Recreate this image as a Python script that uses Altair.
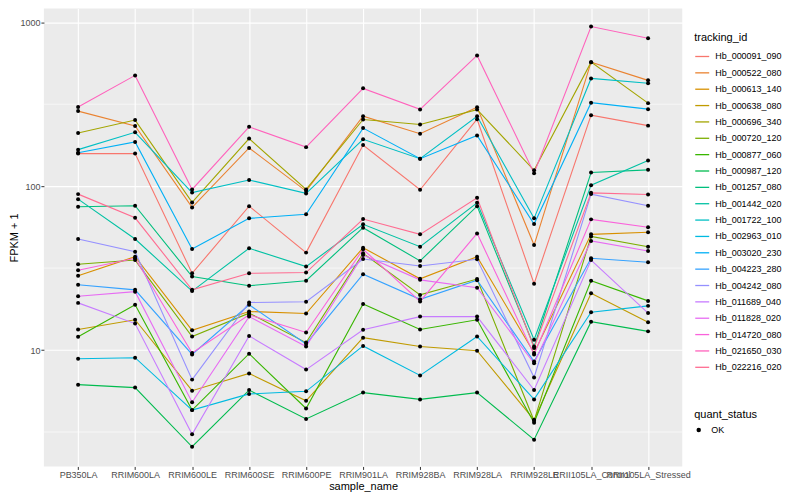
import altair as alt
import pandas as pd

samples = ["PB350LA", "RRIM600LA", "RRIM600LE", "RRIM600SE", "RRIM600PE", "RRIM901LA",
           "RRIM928BA", "RRIM928LA", "RRIM928LE", "RRII105LA_Control", "RRII105LA_Stressed"]

ids = ["Hb_000091_090", "Hb_000522_080", "Hb_000613_140", "Hb_000638_080", "Hb_000696_340",
       "Hb_000720_120", "Hb_000877_060", "Hb_000987_120", "Hb_001257_080", "Hb_001442_020",
       "Hb_001722_100", "Hb_002963_010", "Hb_003020_230", "Hb_004223_280", "Hb_004242_080",
       "Hb_011689_040", "Hb_011828_020", "Hb_014720_080", "Hb_021650_030", "Hb_022216_020"]

hb_000091_090 = [158, 158, 29.4, 75.5, 39.3, 178, 95, 256, 25.4, 271, 234]
hb_000522_080 = [287, 233, 74.2, 171, 93.3, 267, 209, 303, 43.7, 571, 442]
hb_000613_140 = [28.4, 37.1, 13.2, 17.2, 16.7, 42.1, 27.2, 37.1, 9.6, 50.8, 52.3]
hb_000638_080 = [13.35, 15.3, 5.65, 7.2, 4.9, 11.9, 10.5, 9.9, 3.75, 22.2, 14.8]
hb_000696_340 = [211, 253, 79.6, 195, 95.5, 255, 238, 293, 125, 571, 321]
hb_000720_120 = [33.4, 35.4, 12.1, 16.8, 11.1, 38.9, 21.7, 27.1, 3.7, 49.3, 42.7]
hb_000877_060 = [12.05, 18.9, 4.3, 9.5, 4.4, 19.1, 13.35, 15.3, 3.6, 26.5, 19.95]
hb_000987_120 = [6.15, 5.9, 2.57, 5.7, 3.8, 5.5, 5.0, 5.5, 2.84, 14.9, 13.0]
hb_001257_080 = [74.8, 75.9, 28.1, 24.7, 26.5, 55.8, 35.0, 75.5, 10.5, 121.2, 125.7]
hb_001442_020 = [83.3, 47.6, 22.9, 41.8, 32.3, 58.5, 42.7, 79.1, 11.55, 101.4, 143.4]
hb_001722_100 = [167, 213, 91.3, 109, 90.3, 193, 147, 267, 63.6, 454, 424]
hb_002963_010 = [8.85, 8.98, 4.3, 5.4, 5.6, 10.6, 7.0, 12.1, 5.0, 17.0, 18.6]
hb_003020_230 = [160, 186, 41.4, 63.6, 67.3, 226, 147, 204, 58.7, 323, 295]
hb_004223_280 = [25.0, 23.3, 9.4, 18.9, 10.9, 29.0, 20.4, 26.7, 8.5, 36.3, 34.3]
hb_004242_080 = [47.6, 39.8, 6.6, 19.5, 19.7, 35.9, 32.6, 35.8, 6.8, 89.4, 75.9]
hb_011689_040 = [19.4, 14.5, 3.06, 12.2, 7.6, 13.3, 16.0, 16.0, 5.7, 35.4, 16.8]
hb_011828_020 = [21.3, 22.7, 4.8, 16.0, 10.5, 38.0, 26.8, 24.0, 8.3, 46.3, 40.2]
hb_014720_080 = [30.7, 36.3, 9.6, 16.4, 12.8, 41.2, 19.8, 51.5, 9.4, 62.7, 56.1]
hb_021650_030 = [304, 474, 95.5, 230, 173, 395, 294, 627, 120, 941, 799]
hb_022216_020 = [89.4, 64.1, 23.3, 29.4, 29.7, 63.0, 50.8, 84.9, 10.3, 91.0, 89.0]

series = [hb_000091_090, hb_000522_080, hb_000613_140, hb_000638_080, hb_000696_340,
          hb_000720_120, hb_000877_060, hb_000987_120, hb_001257_080, hb_001442_020,
          hb_001722_100, hb_002963_010, hb_003020_230, hb_004223_280, hb_004242_080,
          hb_011689_040, hb_011828_020, hb_014720_080, hb_021650_030, hb_022216_020]

palette = ["#F8766D", "#EA8331", "#D89000", "#C09B00", "#A3A500", "#7CAE00", "#39B600",
           "#00BB4E", "#00BF7D", "#00C1A3", "#00BFC4", "#00BAE0", "#00B0F6", "#35A2FF",
           "#9590FF", "#C77CFF", "#E76BF3", "#FA62DB", "#FF62BC", "#FF6C91"]

major_breaks = [10, 100, 1000]
minor_breaks = [3.1623, 31.623, 316.23]

rows = []
for tid, vals in zip(ids, series):
    for s, v in zip(samples, vals):
        rows.append({"tracking_id": tid, "sample_name": s, "fpkm": v, "quant_status": "OK"})
df = pd.DataFrame(rows)
minor_df = pd.DataFrame({"fpkm": minor_breaks})

FONT = "Liberation Sans"
yscale = alt.Scale(type="log", domain=[1.949, 1211], nice=False)
yaxis = alt.Axis(title="FPKM + 1", values=major_breaks, labelExpr="datum.value + ''",
                 labelPadding=1, titlePadding=0)
xenc = alt.X("sample_name:N", sort=samples, scale=alt.Scale(type="point", padding=0.6),
             axis=alt.Axis(title="sample_name", labelAngle=0, labelOverlap=False,
                           labelBound=False, labelPadding=1, titlePadding=1))
yenc = alt.Y("fpkm:Q", scale=yscale, axis=yaxis)

minor = alt.Chart(minor_df).mark_rule(color="white", strokeWidth=0.6).encode(
    y=alt.Y("fpkm:Q", scale=yscale, axis=yaxis)
)

lines = alt.Chart(df).mark_line(strokeWidth=1.1).encode(
    x=xenc, y=yenc,
    color=alt.Color("tracking_id:N", scale=alt.Scale(domain=ids, range=palette),
                    legend=alt.Legend(title="tracking_id", orient="none", legendX=652, legendY=23,
                                      symbolType="stroke", symbolSize=196, symbolStrokeWidth=1.3,
                                      rowPadding=3.4, titlePadding=6, labelOffset=5,
                                      labelFontSize=9, titleFontSize=11)),
    detail="tracking_id:N",
)

points = alt.Chart(df).mark_point(filled=True, color="black", size=16, opacity=1).encode(
    x=xenc, y=yenc,
    shape=alt.Shape("quant_status:N", scale=alt.Scale(range=["circle"]),
                    legend=alt.Legend(title="quant_status", orient="none", legendX=652, legendY=401,
                                      symbolSize=20, symbolFillColor="black", symbolStrokeColor="black",
                                      titlePadding=6, labelOffset=8, labelFontSize=9,
                                      titleFontSize=11)),
)

chart = alt.layer(minor, lines, points).properties(
    width=640, height=459,
    autosize=alt.AutoSizeParams(type="none"),
    padding={"left": 36, "top": 0, "right": 110, "bottom": 25},
).configure(font=FONT).configure_view(
    fill="#EBEBEB", stroke=None
).configure_axis(
    grid=True, gridColor="white", gridWidth=1.1, domain=False,
    tickColor="#333333", tickSize=3, tickWidth=1,
    labelColor="#4D4D4D", labelFontSize=9, labelFont=FONT,
    titleFont=FONT, titleFontSize=11, titleFontWeight="normal", titleColor="black",
).configure_legend(
    labelFont=FONT, titleFont=FONT, titleFontWeight="normal", titleColor="black",
    labelColor="black",
)

chart.save("out.html", embed_options={"renderer": "svg", "actions": False})
